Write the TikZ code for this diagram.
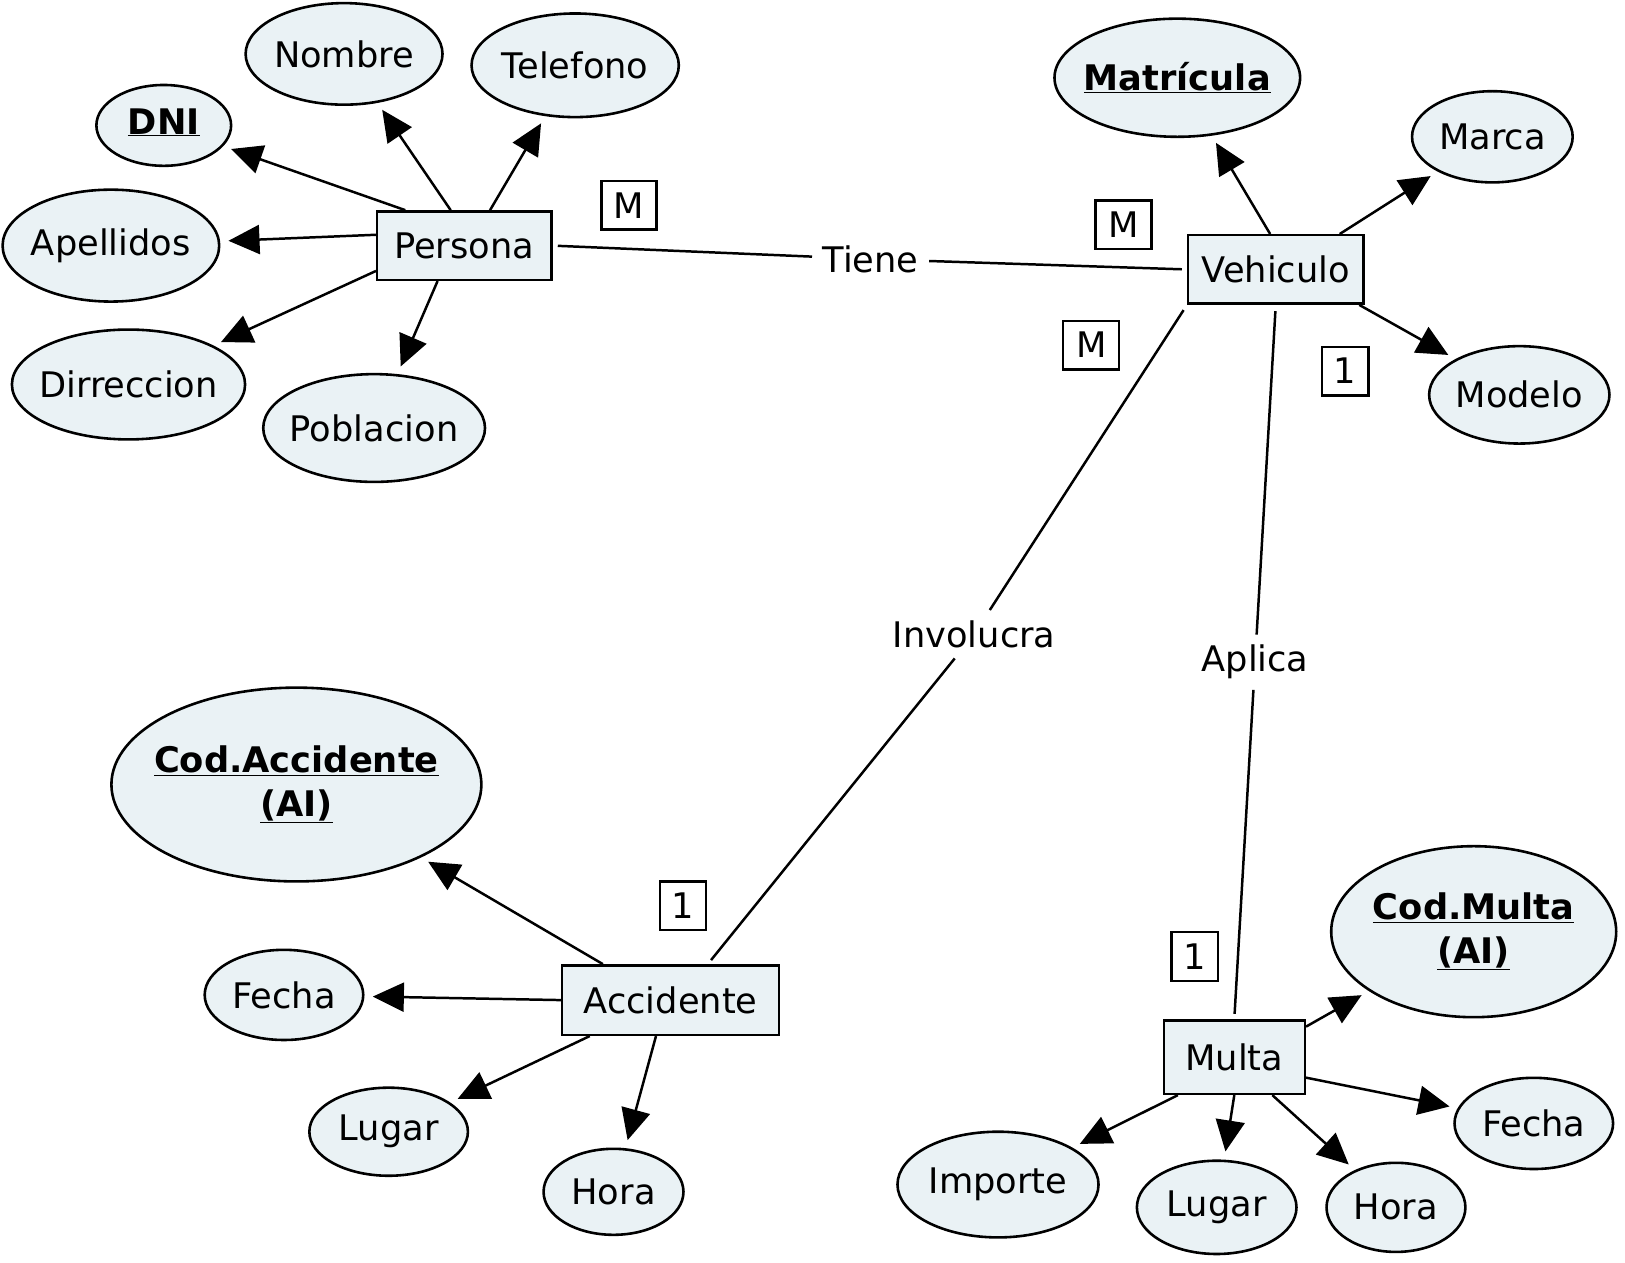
\documentclass[tikz,border=0pt]{standalone}
\usepackage{fontspec}
\setmainfont{DejaVu Sans}
\usetikzlibrary{shapes.geometric,arrows.meta}
\definecolor{fillc}{RGB}{234,242,245}
\begin{document}
\begin{tikzpicture}[x=1pt,y=-1pt,
  every node/.style={font=\fontsize{34}{42}\selectfont},
  ent/.style={draw, line width=2.4pt, fill=fillc, inner sep=4pt},
  attr/.style={ellipse, draw, line width=2.5pt, fill=fillc, inner sep=0pt},
  keyf/.style={font=\fontsize{34}{42}\selectfont\bfseries, align=center},
  arr/.style={-{Triangle[length=30pt,width=28pt]}, line width=2.4pt, shorten >=8pt},
  rel/.style={line width=2.4pt},
  phrase/.style={inner sep=10pt},
  card/.style={draw, line width=2.2pt, minimum width=#1, minimum height=47pt, inner sep=0pt}
]
\fill[white] (0,0) rectangle (1568,1218);
\useasboundingbox (0,0) rectangle (1568,1218);

% entities
\node[ent, minimum width=168pt, minimum height=66pt] (per) at (448,237) {Persona};
\node[ent, minimum width=169pt, minimum height=66pt] (veh) at (1231,260) {Vehiculo};
\node[ent, minimum width=209pt, minimum height=67pt] (acc) at (647,965) {Accidente};
\node[ent, minimum width=136pt, minimum height=71pt] (mul) at (1191,1020) {Multa};

% attributes of Persona
\node[attr, minimum width=130pt, minimum height=78pt, label={[keyf, yshift=3pt]center:\underline{DNI}}] (dni) at (158,121) {};
\node[attr, minimum width=190pt, minimum height=98pt, label={center:Nombre}] (nom) at (332,52) {};
\node[attr, minimum width=200pt, minimum height=100pt, label={center:Telefono}] (tel) at (555,63) {};
\node[attr, minimum width=209pt, minimum height=108pt, label={center:Apellidos}] (ape) at (107,237) {};
\node[attr, minimum width=225pt, minimum height=106pt, label={center:Dirreccion}] (dir) at (124,371) {};
\node[attr, minimum width=214pt, minimum height=104pt, label={center:Poblacion}] (pob) at (361,413) {};

% attributes of Vehiculo
\node[attr, minimum width=237pt, minimum height=114pt, label={[keyf]center:\underline{Matrícula}}] (mat) at (1136,75) {};
\node[attr, minimum width=155pt, minimum height=88pt, label={center:Marca}] (mar) at (1440,132) {};
\node[attr, minimum width=174pt, minimum height=94pt, label={center:Modelo}] (mod) at (1466,381) {};

% attributes of Accidente
\node[attr, minimum width=357pt, minimum height=187pt, label={[keyf]center:{\underline{Cod.Accidente}\\\underline{(AI)}}}] (cacc) at (286,757) {};
\node[attr, minimum width=153pt, minimum height=87pt, label={center:Fecha}] (fa) at (274,960) {};
\node[attr, minimum width=153pt, minimum height=85pt, label={center:Lugar}] (la) at (375,1092) {};
\node[attr, minimum width=135pt, minimum height=83pt, label={center:Hora}] (ha) at (592,1150) {};

% attributes of Multa
\node[attr, minimum width=275pt, minimum height=165pt, label={[keyf]center:{\underline{Cod.Multa}\\\underline{(AI)}}}] (cmul) at (1422,899) {};
\node[attr, minimum width=153pt, minimum height=88pt, label={center:Fecha}] (fm) at (1480,1084) {};
\node[attr, minimum width=194pt, minimum height=102pt, label={center:Importe}] (imp) at (963,1143) {};
\node[attr, minimum width=154pt, minimum height=90pt, label={center:Lugar}] (lm) at (1174,1165) {};
\node[attr, minimum width=134pt, minimum height=86pt, label={center:Hora}] (hm) at (1347,1165) {};

% linking phrases
\node[phrase] (tie) at (840,250) {Tiene};
\node[phrase] (inv) at (940,612) {Involucra};
\node[phrase] (apl) at (1211,639) {Aplica};

% cardinalities
\node[card=53pt] (c1) at (607,198) {M};
\node[card=54pt] (c2) at (1084,217) {M};
\node[card=54pt] (c3) at (1053,333) {M};
\node[card=45pt] (c4) at (1298,358) {1};
\node[card=45pt] (c5) at (659,874) {1};
\node[card=45pt] (c6) at (1153,923) {1};

% attribute arrows
\draw[arr] (per.149) -- (dni);
\draw[arr] (per.111) -- (nom);
\draw[arr] (per.54) -- (tel);
\draw[arr] (per.173) -- (ape);
\draw[arr] (per.196.6) -- (dir);
\draw[arr] (per.233) -- (pob);

\draw[arr] (veh.99) -- (mat);
\draw[arr] (veh.29.6) -- (mar);
\draw[arr] (veh.337.5) -- (mod);

\draw[arr] (acc.152) -- (cacc);
\draw[arr] (acc.180) -- (fa);
\draw[arr] (acc.204.7) -- (la);
\draw[arr] (acc.248) -- (ha);

\draw[arr] (mul.23.8) -- (cmul);
\draw[arr] (mul.344) -- (fm);
\draw[arr] (mul.214) -- (imp);
\draw[arr] (mul.270) -- (lm);
\draw[arr] (mul.315) -- (hm);

% relationship lines
\draw[rel, shorten <=5pt] (per.east) -- (tie);
\draw[rel, shorten >=5pt] (tie) -- (veh.west);
\draw[rel, shorten <=6pt] (veh.south west) -- (inv);
\draw[rel, shorten >=5pt] (inv) -- (acc.44);
\draw[rel, shorten <=6pt] (veh.south) -- (apl);
\draw[rel, shorten >=5pt] (apl) -- (mul.north);
\end{tikzpicture}
\end{document}
